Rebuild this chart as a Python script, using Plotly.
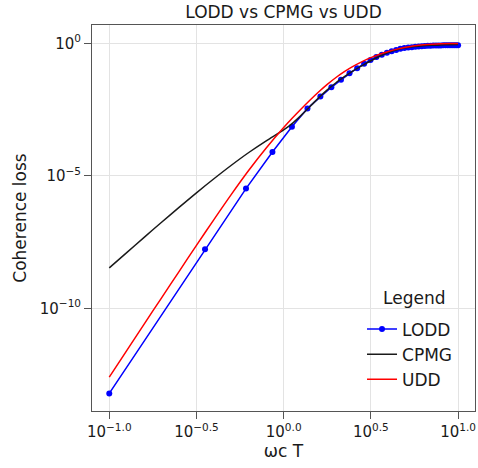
import plotly.graph_objects as go

# Pulse-sequence comparison: coherence loss versus ωc·T (log–log)

# LODD: evaluated on an evenly spaced grid of ωc·T
lodd_x = [0.1, 0.354, 0.608, 0.862, 1.115, 1.369, 1.623, 1.877, 2.131, 2.385,
          2.638, 2.892, 3.146, 3.4, 3.654, 3.908, 4.162, 4.415, 4.669, 4.923,
          5.177, 5.431, 5.685, 5.938, 6.192, 6.446, 6.7, 6.954, 7.208, 7.462,
          7.715, 7.969, 8.223, 8.477, 8.731, 8.985, 9.238, 9.492, 9.746, 10.0]
lodd_y = [6.2e-14, 1.7e-8, 3.3e-6, 7.9e-5, 7.1e-4, 3.5e-3, 9.8e-3, 2.19e-2, 4.17e-2, 7.41e-2,
          0.115, 0.170, 0.234, 0.302, 0.372, 0.437, 0.501, 0.562, 0.617, 0.661,
          0.692, 0.716, 0.741, 0.759, 0.776, 0.789, 0.800, 0.809, 0.817, 0.822,
          0.828, 0.832, 0.836, 0.839, 0.841, 0.843, 0.845, 0.847, 0.849, 0.851]

# CPMG and UDD: evaluated on a logarithmic grid
curve_x = [0.1, 0.1259, 0.1585, 0.1995, 0.2512, 0.3162, 0.3981, 0.5012, 0.631, 0.7943,
           1.0, 1.122, 1.259, 1.413, 1.585, 1.778, 1.995, 2.239, 2.512, 2.818,
           3.162, 3.548, 3.981, 4.467, 5.012, 5.623, 6.31, 7.079, 7.943, 8.913, 10.0]
cpmg_y = [3.39e-9, 1.27e-8, 4.79e-8, 1.78e-7, 6.46e-7, 2.29e-6, 7.76e-6, 2.51e-5, 7.59e-5, 2.09e-4,
          5.37e-4, 9.55e-4, 1.91e-3, 4.07e-3, 8.71e-3, 1.74e-2, 3.24e-2, 5.62e-2, 9.33e-2, 0.145,
          0.219, 0.324, 0.450, 0.570, 0.676, 0.750, 0.804, 0.841, 0.871, 0.887, 0.895]
udd_y = [2.57e-13, 2.57e-12, 2.57e-11, 2.51e-10, 2.45e-9, 2.40e-8, 2.24e-7, 2.00e-6, 1.62e-5, 1.12e-4,
         6.61e-4, 1.51e-3, 3.31e-3, 7.08e-3, 1.45e-2, 2.82e-2, 5.13e-2, 8.71e-2, 0.138, 0.204,
         0.288, 0.385, 0.490, 0.603, 0.708, 0.804, 0.875, 0.920, 0.955, 0.973, 0.982]

# Tick positions and labels
x_tickvals = [0.1, 0.3162, 1.0, 3.162, 10.0]
x_ticktext = ["10<sup>\u22121.0</sup>", "10<sup>\u22120.5</sup>", "10<sup>0.0</sup>",
              "10<sup>0.5</sup>", "10<sup>1.0</sup>"]
y_tickvals = [1.0, 1e-5, 1e-10]
y_ticktext = ["10<sup>0</sup>", "10<sup>\u22125</sup>", "10<sup>\u221210</sup>"]

FONT = "DejaVu Sans"
TEXT_COLOR = "#1a1a1a"
AXIS_COLOR = "#555555"
GRID_COLOR = "#e3e3e3"

fig = go.Figure()
fig.add_trace(go.Scatter(x=lodd_x, y=lodd_y, name="LODD", mode="lines+markers",
                         line=dict(color="#0000ff", width=1.5),
                         marker=dict(color="#0000ff", size=6, symbol="circle")))
fig.add_trace(go.Scatter(x=curve_x, y=cpmg_y, name="CPMG", mode="lines",
                         line=dict(color="#1a1a1a", width=1.5, shape="spline", smoothing=0.8)))
fig.add_trace(go.Scatter(x=curve_x, y=udd_y, name="UDD", mode="lines",
                         line=dict(color="#ff0000", width=1.5, shape="spline", smoothing=0.8)))

fig.update_layout(
    width=478, height=468,
    margin=dict(l=92, r=3, t=25, b=57),
    paper_bgcolor="white", plot_bgcolor="white",
    font=dict(family=FONT, size=15, color=TEXT_COLOR),
    title=dict(text="LODD vs CPMG vs UDD", x=0.5, xref="paper",
               y=1 - 12 / 468, yref="container", xanchor="center", yanchor="middle",
               font=dict(family=FONT, size=17, color=TEXT_COLOR)),
    showlegend=True,
    legend=dict(x=0.705, y=0.035, xanchor="left", yanchor="bottom",
                bgcolor="rgba(0,0,0,0)", borderwidth=0,
                font=dict(family=FONT, size=17, color=TEXT_COLOR)),
    annotations=[dict(text="Legend", xref="paper", yref="paper",
                      x=0.841, y=0.293, xanchor="center", yanchor="middle",
                      showarrow=False, font=dict(family=FONT, size=17, color=TEXT_COLOR))],
)

fig.update_xaxes(type="log", range=[-1.099, 1.097],
                 tickvals=x_tickvals, ticktext=x_ticktext,
                 ticks="outside", ticklen=7, tickcolor=AXIS_COLOR,
                 showline=True, linecolor=AXIS_COLOR, linewidth=1, mirror=True,
                 showgrid=True, gridcolor=GRID_COLOR, gridwidth=1, zeroline=False,
                 tickfont=dict(family=FONT, size=15),
                 title=dict(text="\u03c9c T", font=dict(family=FONT, size=17), standoff=0))
fig.update_yaxes(type="log", range=[-13.87, 0.69],
                 tickvals=y_tickvals, ticktext=y_ticktext,
                 ticks="outside", ticklen=7, tickcolor=AXIS_COLOR,
                 showline=True, linecolor=AXIS_COLOR, linewidth=1, mirror=True,
                 showgrid=True, gridcolor=GRID_COLOR, gridwidth=1, zeroline=False,
                 tickfont=dict(family=FONT, size=15),
                 title=dict(text="Coherence loss", font=dict(family=FONT, size=17), standoff=8))

fig.write_html("out.html")
